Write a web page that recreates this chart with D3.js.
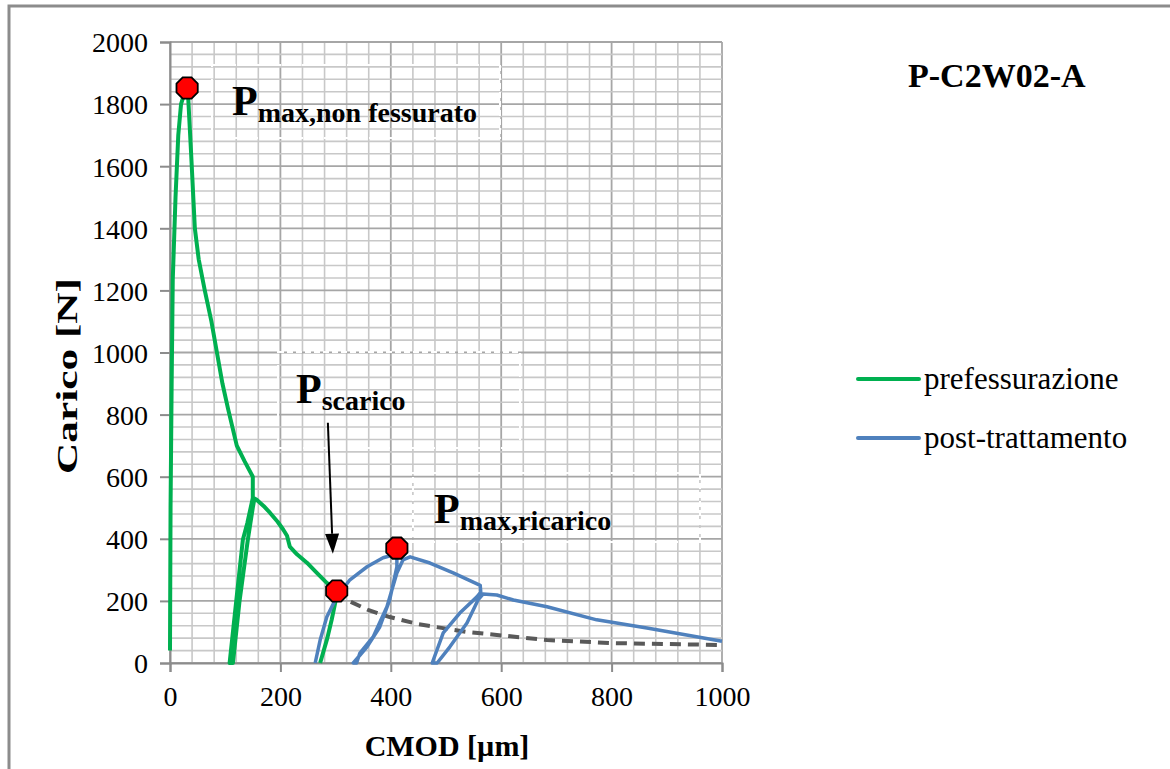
<!DOCTYPE html>
<html>
<head>
<meta charset="utf-8">
<script src="https://cdn.jsdelivr.net/npm/d3@7"></script>
<style>
  body { margin: 0; background: #fff; }
  text { font-family: "Liberation Serif", Tinos, "Times New Roman", Times, "Nimbus Roman", "FreeSerif", "Noto Serif", "DejaVu Serif", serif; fill: #000; }
</style>
</head>
<body>
<div id="chart"></div>
<script>

// prefessurazione curve [CMOD um, Carico N]
var greenX = [0, 1, 3, 5, 10, 15, 20, 27, 33, 38, 45, 52, 63, 75, 85, 95, 105, 121, 135, 150,
  150, 140, 132, 120, 108, 114, 126, 141, 150, 153, 157, 170, 181, 195, 205, 212, 217, 230, 248, 266, 284, 302,
  300, 293, 285, 272];
var greenY = [40, 500, 900, 1235, 1500, 1700, 1800, 1840, 1820, 1650, 1400, 1300, 1200, 1100, 1000, 900, 820, 700, 650, 600,
  532, 450, 397, 200, 0, 0, 200, 397, 500, 530, 526, 505, 484, 455, 430, 410, 375, 350, 323, 290, 258, 232,
  200, 140, 80, 0];

// post-trattamento curve
var blueX = [263, 272, 284, 302, 326, 357, 386, 404, 411,
  411, 398, 380, 357, 332, 338, 344, 368, 393, 411, 422, 435,
  471, 513, 562, 563,
  556, 525, 495, 475, 484, 507, 538, 558, 567,
  592, 622, 683, 773, 864, 1000];
var blueY = [0, 74, 148, 213, 268, 310, 339, 348, 355,
  310, 203, 116, 52, 0, 0, 32, 84, 181, 290, 332, 342,
  322, 290, 250, 228,
  213, 161, 97, 0, 0, 52, 129, 203, 222,
  219, 203, 181, 139, 113, 70];

// dashed trend after unloading
var dashX = [302, 320, 360, 398, 450, 538, 683, 803, 1000];
var dashY = [232, 203, 170, 148, 125, 100, 74, 64, 58];

// highlighted points
var markerX = [31, 302, 411];
var markerY = [1852, 232, 370];

var xTicks = [0, 200, 400, 600, 800, 1000];
var yTicks = [0, 200, 400, 600, 800, 1000, 1200, 1400, 1600, 1800, 2000];
var gridStep = 40;

var seriesNames = ["prefessurazione", "post-trattamento"];
var seriesColors = ["#00b050", "#4f81bd"];

/************************************************************/

var serif = "'Liberation Serif', Tinos, 'Times New Roman', Times, 'Nimbus Roman', FreeSerif, 'Noto Serif', 'DejaVu Serif', serif";
var width = 1170, height = 769;
var svg = d3.select("#chart").append("svg").attr("width", width).attr("height", height);

// outer frame (right/bottom fall outside the picture)
svg.append("rect").attr("x", 9).attr("y", 6).attr("width", 1200).attr("height", 800)
  .attr("fill", "none").attr("stroke", "#8c8c8c").attr("stroke-width", 3);

var x = d3.scaleLinear().domain([0, 1000]).range([170, 722]);
var y = d3.scaleLinear().domain([0, 2000]).range([663, 42]);

var grid = svg.append("g");

// minor + major grid
d3.range(0, 1000 + 1, gridStep).forEach(function (v) {
  var major = v % 200 === 0;
  grid.append("line").attr("x1", x(v)).attr("x2", x(v)).attr("y1", y(0)).attr("y2", y(2000))
    .attr("stroke", major ? "#a6a6a6" : "#c8c8c8").attr("stroke-width", major ? 1.8 : 1.6);
});
d3.range(0, 2000 + 1, gridStep).forEach(function (v) {
  var major = v % 200 === 0;
  grid.append("line").attr("x1", x(0)).attr("x2", x(1000)).attr("y1", y(v)).attr("y2", y(v))
    .attr("stroke", major ? "#a6a6a6" : "#c8c8c8").attr("stroke-width", major ? 1.8 : 1.6);
});

// axes
var axisX = svg.append("g").attr("transform", "translate(0," + y(0) + ")")
  .call(d3.axisBottom(x).tickValues(xTicks).tickSize(9).tickPadding(14).tickFormat(d3.format("d")));
var axisY = svg.append("g").attr("transform", "translate(" + x(0) + ",0)")
  .call(d3.axisLeft(y).tickValues(yTicks).tickSize(10).tickPadding(12).tickFormat(d3.format("d")));

[axisX, axisY].forEach(function (a) {
  a.attr("font-family", null).attr("font-size", null);
  a.select(".domain").attr("stroke", "#8c8c8c").attr("stroke-width", 2);
  a.selectAll(".tick line").attr("stroke", "#8c8c8c").attr("stroke-width", 2);
  a.selectAll(".tick text").style("font-family", serif).style("font-size", "28px").attr("fill", "#000");
});
axisY.selectAll(".tick text").attr("dy", "0.35em");

// axis titles
svg.append("text").attr("x", 447).attr("y", 756).attr("text-anchor", "middle")
  .style("font-size", "30px").style("font-weight", "bold").text("CMOD [\u00b5m]");
svg.append("text").attr("transform", "translate(77,376) rotate(-90)").attr("text-anchor", "middle")
  .attr("textLength", 196).attr("lengthAdjust", "spacingAndGlyphs")
  .style("font-size", "30px").style("font-weight", "bold").text("Carico [N]");

// faint text-box borders
var boxes = [[212, 65, 288, 73], [278, 352, 242, 96], [413, 473, 287, 69]];
boxes.forEach(function (b) {
  svg.append("rect").attr("x", b[0]).attr("y", b[1]).attr("width", b[2]).attr("height", b[3])
    .attr("fill", "none").attr("stroke", "#fff").attr("stroke-width", 2).attr("stroke-dasharray", "6,3");
});

var plot = svg.append("g");

var line = d3.line().x(function (d) { return x(d[0]); }).y(function (d) { return y(d[1]); });

plot.append("path").datum(d3.zip(dashX, dashY)).attr("d", line)
  .attr("fill", "none").attr("stroke", "#595959").attr("stroke-width", 4).attr("stroke-dasharray", "11,7");

plot.append("path").datum(d3.zip(greenX, greenY)).attr("d", line)
  .attr("fill", "none").attr("stroke", seriesColors[0]).attr("stroke-width", 4).attr("stroke-linejoin", "round");

plot.append("path").datum(d3.zip(blueX, blueY)).attr("d", line)
  .attr("fill", "none").attr("stroke", seriesColors[1]).attr("stroke-width", 3.5).attr("stroke-linejoin", "round");

// arrow to P scarico
var arrowFrom = [286, 774], arrowTo = [295, 352];
var ax1 = x(arrowFrom[0]), ay1 = y(arrowFrom[1]), ax2 = x(arrowTo[0]), ay2 = y(arrowTo[1]);
var ang = Math.atan2(ay2 - ay1, ax2 - ax1);
var headL = 20, headW = 7;
var bx = ax2 - headL * Math.cos(ang), by = ay2 - headL * Math.sin(ang);
svg.append("line").attr("x1", ax1).attr("y1", ay1).attr("x2", bx).attr("y2", by)
  .attr("stroke", "#000").attr("stroke-width", 2);
svg.append("path").attr("d", "M" + ax2 + "," + ay2 +
  "L" + (bx + headW * Math.sin(ang)) + "," + (by - headW * Math.cos(ang)) +
  "L" + (bx - headW * Math.sin(ang)) + "," + (by + headW * Math.cos(ang)) + "Z").attr("fill", "#000");

// octagon markers
var octR = 11.5;
var oct = d3.range(8).map(function (i) {
  var a = Math.PI / 8 + i * Math.PI / 4;
  return [octR * Math.cos(a), octR * Math.sin(a)];
});
markerX.forEach(function (mx, i) {
  svg.append("polygon").attr("points", oct.map(function (p) { return p.join(","); }).join(" "))
    .attr("transform", "translate(" + x(mx) + "," + y(markerY[i]) + ")")
    .attr("fill", "#ff0000").attr("stroke", "#000").attr("stroke-width", 1.8);
});

// annotation labels: big P with bold subscript
function label(px, py, sub) {
  var t = svg.append("text").attr("x", px).attr("y", py).style("font-weight", "bold");
  t.append("tspan").style("font-size", "42px").text("P");
  t.append("tspan").attr("dy", 7).style("font-size", "28px").text(sub);
}
label(232, 115, "max,non fessurato");
label(296, 403, "scarico");
label(434, 523, "max,ricarico");

// title
svg.append("text").attr("x", 908).attr("y", 87).style("font-size", "34px").style("font-weight", "bold").text("P-C2W02-A");

// legend
var legend = svg.append("g");
seriesNames.forEach(function (name, i) {
  var ly = 379 + i * 59;
  legend.append("line").attr("x1", 858).attr("x2", 919).attr("y1", ly).attr("y2", ly)
    .attr("stroke", seriesColors[i]).attr("stroke-width", 4).attr("stroke-linecap", "round");
  legend.append("text").attr("x", 924).attr("y", ly + 10).style("font-size", "31px").text(name);
});

</script>
</body>
</html>
